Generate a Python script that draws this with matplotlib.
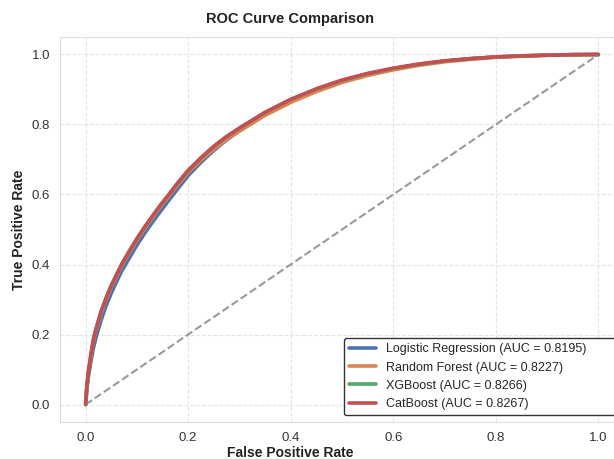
import numpy as np
import matplotlib.pyplot as plt
import seaborn as sns

# ROC points (false positive rate, true positive rate)
fpr = [0, 0.002, 0.005, 0.01, 0.015, 0.02, 0.03, 0.04, 0.05, 0.06, 0.07, 0.085,
       0.1, 0.115, 0.13, 0.145, 0.16, 0.18, 0.2, 0.225, 0.25, 0.275, 0.3, 0.35,
       0.4, 0.45, 0.5, 0.55, 0.6, 0.65, 0.7, 0.75, 0.8, 0.85, 0.9, 0.95, 1.0]
tpr_cat = [0, 0.045, 0.09, 0.14, 0.185, 0.215, 0.265, 0.305, 0.34, 0.37, 0.40, 0.438,
           0.474, 0.507, 0.538, 0.568, 0.596, 0.634, 0.669, 0.705, 0.738, 0.766, 0.79, 0.835,
           0.872, 0.902, 0.927, 0.946, 0.961, 0.973, 0.982, 0.988, 0.993, 0.996, 0.998, 0.9995, 1.0]
tpr_xgb = [0, 0.044, 0.089, 0.139, 0.184, 0.214, 0.264, 0.304, 0.339, 0.369, 0.399, 0.437,
           0.473, 0.506, 0.537, 0.567, 0.595, 0.633, 0.668, 0.704, 0.737, 0.765, 0.789, 0.834,
           0.871, 0.901, 0.926, 0.945, 0.96, 0.972, 0.981, 0.988, 0.993, 0.996, 0.998, 0.9995, 1.0]
tpr_rf = [0, 0.042, 0.086, 0.135, 0.18, 0.21, 0.26, 0.3, 0.335, 0.365, 0.395, 0.433,
          0.469, 0.502, 0.533, 0.563, 0.591, 0.628, 0.663, 0.698, 0.73, 0.757, 0.781, 0.826,
          0.863, 0.894, 0.92, 0.94, 0.956, 0.969, 0.979, 0.986, 0.992, 0.995, 0.998, 0.9995, 1.0]
tpr_lr = [0, 0.035, 0.075, 0.12, 0.16, 0.19, 0.24, 0.282, 0.318, 0.35, 0.38, 0.418,
          0.455, 0.489, 0.52, 0.55, 0.579, 0.617, 0.654, 0.692, 0.726, 0.756, 0.782, 0.829,
          0.867, 0.898, 0.924, 0.944, 0.959, 0.971, 0.981, 0.988, 0.993, 0.996, 0.998, 0.9995, 1.0]

models = ["Logistic Regression", "Random Forest", "XGBoost", "CatBoost"]
aucs = [0.8195, 0.8227, 0.8266, 0.8267]
curves = [tpr_lr, tpr_rf, tpr_xgb, tpr_cat]

sns.set_style("whitegrid")
plt.rcParams['font.family'] = ['Liberation Sans', 'DejaVu Sans']

fig = plt.figure(figsize=(6.14, 4.59), dpi=100)
ax = fig.add_axes([0.0977, 0.0806, 0.9186, 0.8388])

colors = sns.color_palette("deep")
for name, auc, tpr, c in zip(models, aucs, curves, colors):
    ax.plot(fpr, tpr, color=c, lw=2.6, label=f"{name} (AUC = {auc:.4f})")

ax.plot([0, 1], [0, 1], "--", color="gray", lw=1.5, alpha=0.8)

ax.set_xlim(-0.05, 1.05)
ax.set_ylim(-0.05, 1.05)
ax.grid(True, linestyle="--", alpha=0.5)
for s in ax.spines.values():
    s.set_color("#dddddd")

ax.tick_params(labelsize=9.5, colors="#333333")
ax.set_xlabel("False Positive Rate", fontsize=10, fontweight="bold", color="#222222")
ax.set_ylabel("True Positive Rate", fontsize=10, fontweight="bold", color="#222222")
ax.xaxis.set_label_coords(0.408, -0.062)
ax.set_title("ROC Curve Comparison", fontsize=10.5, fontweight="bold",
             color="#222222", x=0.408, pad=10)

# legend runs past the right edge like in the cropped original
leg = ax.legend(loc="lower left", bbox_to_anchor=(0.5035, 0.018, 0.49, 0),
                mode="expand", fontsize=9, frameon=True, framealpha=1,
                handlelength=2.2, borderaxespad=0)
leg.get_frame().set_edgecolor("#333333")

fig.savefig("out.png", dpi=100)
